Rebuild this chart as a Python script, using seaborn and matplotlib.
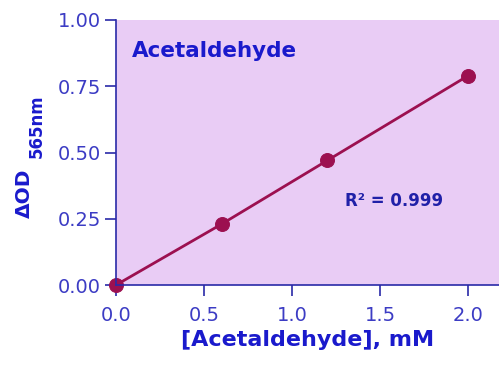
import matplotlib
matplotlib.use('Agg')
import matplotlib.pyplot as plt
import seaborn as sns
import pandas as pd

# data
conc_mM = [0.0, 0.6, 1.2, 2.0]
delta_od = [0.0, 0.23, 0.47, 0.79]
x_ticks = [0.0, 0.5, 1.0, 1.5, 2.0]
y_ticks = [0.00, 0.25, 0.50, 0.75, 1.00]

df = pd.DataFrame({'conc': conc_mM, 'od': delta_od})

sns.set_style('ticks')
plt.rcParams['font.family'] = ['DejaVu Sans']

axis_blue = '#2a2aa8'
tick_blue = '#3c3cc4'
label_blue = '#1a1acc'
line_col = '#9c1050'

fig = plt.figure(figsize=(4.99, 3.69), dpi=100)
ax = fig.add_axes([0.2325, 0.2276, 0.7675, 0.7182])
ax.set_facecolor('#e9ccf5')

sns.lineplot(data=df, x='conc', y='od', ax=ax, color=line_col, linewidth=2.0,
             marker='o', markersize=10, markeredgecolor=line_col, clip_on=False)

ax.set_xlim(0, 2.175)
ax.set_ylim(0, 1.0)
ax.set_xticks(x_ticks)
ax.set_xticklabels([f'{v:.1f}' for v in x_ticks])
ax.set_yticks(y_ticks)
ax.set_yticklabels([f'{v:.2f}' for v in y_ticks])

for side in ['top', 'right']:
    ax.spines[side].set_visible(False)
for side in ['left', 'bottom']:
    ax.spines[side].set_color(axis_blue)
    ax.spines[side].set_linewidth(1.2)

ax.tick_params(axis='both', colors=axis_blue, labelcolor=tick_blue,
               labelsize=14, length=8, width=1.2, direction='out')
ax.tick_params(axis='x', pad=7)
ax.tick_params(axis='y', pad=3)

ax.set_xlabel('[Acetaldehyde], mM', fontsize=16, fontweight='bold', color=label_blue, labelpad=4)
ax.set_ylabel('')

# y label built from two pieces so the subscript keeps its size
fig.text(0.048, 0.4756, '\u0394OD', rotation=90, fontsize=14.5, fontweight='bold',
         color=label_blue, ha='center', va='center')
fig.text(0.0741, 0.657, '565nm', rotation=90, fontsize=12, fontweight='bold',
         color=label_blue, ha='center', va='center')

ax.text(0.042, 0.86, 'Acetaldehyde', transform=ax.transAxes, fontsize=15.5,
        fontweight='bold', color=label_blue, va='baseline')
ax.text(1.30, 0.30, 'R\u00b2 = 0.999', fontsize=12, fontweight='bold',
        color='#2020a8', va='baseline')

fig.savefig('out.png', dpi=100)
